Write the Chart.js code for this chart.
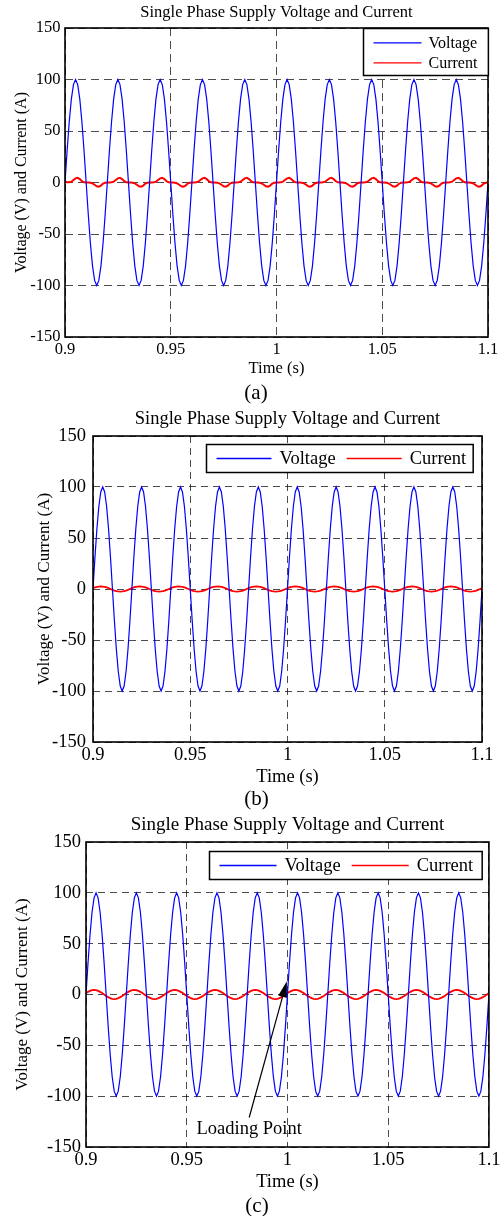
<!DOCTYPE html>
<html><head><meta charset="utf-8">
<script src="https://cdn.jsdelivr.net/npm/chart.js@4.4.0/dist/chart.umd.min.js"></script>
<style>
html,body{margin:0;padding:0;background:#fff;overflow:hidden;width:504px;height:1216px;position:relative;}
canvas{position:absolute;left:0;}
</style></head><body>
<canvas id="ca" width="504" height="410" style="top:0px"></canvas>
<canvas id="cb" width="504" height="418" style="top:400px"></canvas>
<canvas id="cc" width="504" height="420" style="top:800px"></canvas>
<script>
// ---------- data ----------
const titleText = 'Single Phase Supply Voltage and Current';
const xAxisTitle = 'Time (s)';
const yAxisTitle = 'Voltage (V) and Current (A)';
const seriesNames = ['Voltage', 'Current'];
const captions = ['(a)', '(b)', '(c)'];
const xTicks = [0.9, 0.95, 1, 1.05, 1.1];
const yTicks = [-150, -100, -50, 0, 50, 100, 150];
const noteText = 'Loading Point';
const noteTail = [0.981, -121];
const noteHead = [0.9997, 13];
const noteLabel = [0.981, -132];

const time = [
0.900,0.901,0.902,0.903,0.904,0.905,0.906,0.907,0.908,0.909,0.910,0.911,0.912,0.913,0.914,0.915,0.916,0.917,0.918,0.919,
0.920,0.921,0.922,0.923,0.924,0.925,0.926,0.927,0.928,0.929,0.930,0.931,0.932,0.933,0.934,0.935,0.936,0.937,0.938,0.939,
0.940,0.941,0.942,0.943,0.944,0.945,0.946,0.947,0.948,0.949,0.950,0.951,0.952,0.953,0.954,0.955,0.956,0.957,0.958,0.959,
0.960,0.961,0.962,0.963,0.964,0.965,0.966,0.967,0.968,0.969,0.970,0.971,0.972,0.973,0.974,0.975,0.976,0.977,0.978,0.979,
0.980,0.981,0.982,0.983,0.984,0.985,0.986,0.987,0.988,0.989,0.990,0.991,0.992,0.993,0.994,0.995,0.996,0.997,0.998,0.999,
1.000,1.001,1.002,1.003,1.004,1.005,1.006,1.007,1.008,1.009,1.010,1.011,1.012,1.013,1.014,1.015,1.016,1.017,1.018,1.019,
1.020,1.021,1.022,1.023,1.024,1.025,1.026,1.027,1.028,1.029,1.030,1.031,1.032,1.033,1.034,1.035,1.036,1.037,1.038,1.039,
1.040,1.041,1.042,1.043,1.044,1.045,1.046,1.047,1.048,1.049,1.050,1.051,1.052,1.053,1.054,1.055,1.056,1.057,1.058,1.059,
1.060,1.061,1.062,1.063,1.064,1.065,1.066,1.067,1.068,1.069,1.070,1.071,1.072,1.073,1.074,1.075,1.076,1.077,1.078,1.079,
1.080,1.081,1.082,1.083,1.084,1.085,1.086,1.087,1.088,1.089,1.090,1.091,1.092,1.093,1.094,1.095,1.096,1.097,1.098,1.099,
1.100];

const voltage = [
0,30.9,58.8,80.9,95.1,100,95.1,80.9,58.8,30.9,0,-30.9,-58.8,-80.9,-95.1,-100,-95.1,-80.9,-58.8,-30.9,
0,30.9,58.8,80.9,95.1,100,95.1,80.9,58.8,30.9,0,-30.9,-58.8,-80.9,-95.1,-100,-95.1,-80.9,-58.8,-30.9,
0,30.9,58.8,80.9,95.1,100,95.1,80.9,58.8,30.9,0,-30.9,-58.8,-80.9,-95.1,-100,-95.1,-80.9,-58.8,-30.9,
0,30.9,58.8,80.9,95.1,100,95.1,80.9,58.8,30.9,0,-30.9,-58.8,-80.9,-95.1,-100,-95.1,-80.9,-58.8,-30.9,
0,30.9,58.8,80.9,95.1,100,95.1,80.9,58.8,30.9,0,-30.9,-58.8,-80.9,-95.1,-100,-95.1,-80.9,-58.8,-30.9,
0,30.9,58.8,80.9,95.1,100,95.1,80.9,58.8,30.9,0,-30.9,-58.8,-80.9,-95.1,-100,-95.1,-80.9,-58.8,-30.9,
0,30.9,58.8,80.9,95.1,100,95.1,80.9,58.8,30.9,0,-30.9,-58.8,-80.9,-95.1,-100,-95.1,-80.9,-58.8,-30.9,
0,30.9,58.8,80.9,95.1,100,95.1,80.9,58.8,30.9,0,-30.9,-58.8,-80.9,-95.1,-100,-95.1,-80.9,-58.8,-30.9,
0,30.9,58.8,80.9,95.1,100,95.1,80.9,58.8,30.9,0,-30.9,-58.8,-80.9,-95.1,-100,-95.1,-80.9,-58.8,-30.9,
0,30.9,58.8,80.9,95.1,100,95.1,80.9,58.8,30.9,0,-30.9,-58.8,-80.9,-95.1,-100,-95.1,-80.9,-58.8,-30.9,
0];

const currentA = [
0.8,0.3,0.2,0.8,2.4,4.0,4.5,3.4,1.2,0.2,0,0,-0.2,-0.8,-2.2,-3.6,-4.0,-3.0,-1.0,-0.2,
0,0,0.2,0.8,2.4,4.0,4.5,3.4,1.2,0.2,0,0,-0.2,-0.8,-2.2,-3.6,-4.0,-3.0,-1.0,-0.2,
0,0,0.2,0.8,2.4,4.0,4.5,3.4,1.2,0.2,0,0,-0.2,-0.8,-2.2,-3.6,-4.0,-3.0,-1.0,-0.2,
0,0,0.2,0.8,2.4,4.0,4.5,3.4,1.2,0.2,0,0,-0.2,-0.8,-2.2,-3.6,-4.0,-3.0,-1.0,-0.2,
0,0,0.2,0.8,2.4,4.0,4.5,3.4,1.2,0.2,0,0,-0.2,-0.8,-2.2,-3.6,-4.0,-3.0,-1.0,-0.2,
0,0,0.2,0.8,2.4,4.0,4.5,3.4,1.2,0.2,0,0,-0.2,-0.8,-2.2,-3.6,-4.0,-3.0,-1.0,-0.2,
0,0,0.2,0.8,2.4,4.0,4.5,3.4,1.2,0.2,0,0,-0.2,-0.8,-2.2,-3.6,-4.0,-3.0,-1.0,-0.2,
0,0,0.2,0.8,2.4,4.0,4.5,3.4,1.2,0.2,0,0,-0.2,-0.8,-2.2,-3.6,-4.0,-3.0,-1.0,-0.2,
0,0,0.2,0.8,2.4,4.0,4.5,3.4,1.2,0.2,0,0,-0.2,-0.8,-2.2,-3.6,-4.0,-3.0,-1.0,-0.2,
0,0,0.2,0.8,2.4,4.0,4.5,3.4,1.2,0.2,0,0,-0.2,-0.8,-2.2,-3.6,-4.0,-3.0,-1.0,-0.2,
0];

const currentB = [
0.8,1.5,2.0,2.4,2.5,2.4,2.0,1.5,0.8,0,-0.8,-1.5,-2.0,-2.4,-2.5,-2.4,-2.0,-1.5,-0.8,0,
0.8,1.5,2.0,2.4,2.5,2.4,2.0,1.5,0.8,0,-0.8,-1.5,-2.0,-2.4,-2.5,-2.4,-2.0,-1.5,-0.8,0,
0.8,1.5,2.0,2.4,2.5,2.4,2.0,1.5,0.8,0,-0.8,-1.5,-2.0,-2.4,-2.5,-2.4,-2.0,-1.5,-0.8,0,
0.8,1.5,2.0,2.4,2.5,2.4,2.0,1.5,0.8,0,-0.8,-1.5,-2.0,-2.4,-2.5,-2.4,-2.0,-1.5,-0.8,0,
0.8,1.5,2.0,2.4,2.5,2.4,2.0,1.5,0.8,0,-0.8,-1.5,-2.0,-2.4,-2.5,-2.4,-2.0,-1.5,-0.8,0,
0.8,1.5,2.0,2.4,2.5,2.4,2.0,1.5,0.8,0,-0.8,-1.5,-2.0,-2.4,-2.5,-2.4,-2.0,-1.5,-0.8,0,
0.8,1.5,2.0,2.4,2.5,2.4,2.0,1.5,0.8,0,-0.8,-1.5,-2.0,-2.4,-2.5,-2.4,-2.0,-1.5,-0.8,0,
0.8,1.5,2.0,2.4,2.5,2.4,2.0,1.5,0.8,0,-0.8,-1.5,-2.0,-2.4,-2.5,-2.4,-2.0,-1.5,-0.8,0,
0.8,1.5,2.0,2.4,2.5,2.4,2.0,1.5,0.8,0,-0.8,-1.5,-2.0,-2.4,-2.5,-2.4,-2.0,-1.5,-0.8,0,
0.8,1.5,2.0,2.4,2.5,2.4,2.0,1.5,0.8,0,-0.8,-1.5,-2.0,-2.4,-2.5,-2.4,-2.0,-1.5,-0.8,0,
0.8];

const currentC = [
1.4,2.6,3.6,4.3,4.5,4.3,3.6,2.6,1.4,0,-1.4,-2.6,-3.6,-4.3,-4.5,-4.3,-3.6,-2.6,-1.4,0,
1.4,2.6,3.6,4.3,4.5,4.3,3.6,2.6,1.4,0,-1.4,-2.6,-3.6,-4.3,-4.5,-4.3,-3.6,-2.6,-1.4,0,
1.4,2.6,3.6,4.3,4.5,4.3,3.6,2.6,1.4,0,-1.4,-2.6,-3.6,-4.3,-4.5,-4.3,-3.6,-2.6,-1.4,0,
1.4,2.6,3.6,4.3,4.5,4.3,3.6,2.6,1.4,0,-1.4,-2.6,-3.6,-4.3,-4.5,-4.3,-3.6,-2.6,-1.4,0,
1.4,2.6,3.6,4.3,4.5,4.3,3.6,2.6,1.4,0,-1.4,-2.6,-3.6,-4.3,-4.5,-4.3,-3.6,-2.6,-1.4,0,
1.4,2.6,3.6,4.3,4.5,4.3,3.6,2.6,1.4,0,-1.4,-2.6,-3.6,-4.3,-4.5,-4.3,-3.6,-2.6,-1.4,0,
1.4,2.6,3.6,4.3,4.5,4.3,3.6,2.6,1.4,0,-1.4,-2.6,-3.6,-4.3,-4.5,-4.3,-3.6,-2.6,-1.4,0,
1.4,2.6,3.6,4.3,4.5,4.3,3.6,2.6,1.4,0,-1.4,-2.6,-3.6,-4.3,-4.5,-4.3,-3.6,-2.6,-1.4,0,
1.4,2.6,3.6,4.3,4.5,4.3,3.6,2.6,1.4,0,-1.4,-2.6,-3.6,-4.3,-4.5,-4.3,-3.6,-2.6,-1.4,0,
1.4,2.6,3.6,4.3,4.5,4.3,3.6,2.6,1.4,0,-1.4,-2.6,-3.6,-4.3,-4.5,-4.3,-3.6,-2.6,-1.4,0,
1.4];

// ---------- plugins ----------
const FAMILY = '"Liberation Serif", "Times New Roman", serif';

const framePlugin = {
  id: 'frame',
  afterDatasetsDraw(chart) {
    const {ctx, chartArea: a} = chart;
    ctx.save();
    ctx.strokeStyle = '#000';
    ctx.lineWidth = 1.6;
    ctx.strokeRect(a.left, a.top, a.right - a.left, a.bottom - a.top);
    ctx.restore();
  }
};

const legendPlugin = {
  id: 'boxLegend',
  afterDraw(chart, args, o) {
    const {ctx, chartArea: a} = chart;
    const ds = chart.data.datasets;
    ctx.save();
    ctx.font = o.size + 'px ' + FAMILY;
    const tw = ds.map(d => ctx.measureText(d.label).width);
    let w;
    if (o.vertical) w = o.padL + o.len + o.gap + Math.max(...tw) + o.padR;
    else w = o.padL + tw.reduce((s, v) => s + v, 0) + ds.length * (o.len + o.gap) + (ds.length - 1) * o.itemGap + o.padR;
    const x0 = Math.round(a.right - o.right - w) + 0.5, y0 = Math.round(a.top + o.top) + 0.5;
    ctx.fillStyle = '#fff';
    ctx.fillRect(x0, y0, w, o.h);
    ctx.strokeStyle = '#000';
    ctx.lineWidth = o.bw;
    ctx.strokeRect(x0, y0, w, o.h);
    ctx.textBaseline = 'middle';
    ctx.textAlign = 'left';
    let x = x0 + o.padL;
    ds.forEach((d, i) => {
      const y = y0 + (o.vertical ? o.rows[i] : o.h / 2);
      const lx = o.vertical ? x0 + o.padL : x;
      ctx.strokeStyle = d.borderColor;
      ctx.lineWidth = 1.3;
      ctx.beginPath(); ctx.moveTo(lx, y); ctx.lineTo(lx + o.len, y); ctx.stroke();
      ctx.fillStyle = '#000';
      ctx.fillText(d.label, lx + o.len + o.gap, y + 1);
      if (!o.vertical) x = lx + o.len + o.gap + tw[i] + o.itemGap;
    });
    ctx.restore();
  }
};

const notePlugin = {
  id: 'arrowNote',
  afterDatasetsDraw(chart, args, o) {
    const {ctx, scales: {x, y}} = chart;
    const x1 = x.getPixelForValue(o.tail[0]), y1 = y.getPixelForValue(o.tail[1]);
    const x2 = x.getPixelForValue(o.head[0]), y2 = y.getPixelForValue(o.head[1]);
    const ang = Math.atan2(y2 - y1, x2 - x1);
    const L = 16, W = 4.5;
    const bx = x2 - L * Math.cos(ang), by = y2 - L * Math.sin(ang);
    ctx.save();
    ctx.strokeStyle = '#000'; ctx.fillStyle = '#000'; ctx.lineWidth = 1.2;
    ctx.beginPath(); ctx.moveTo(x1, y1); ctx.lineTo(bx, by); ctx.stroke();
    ctx.beginPath(); ctx.moveTo(x2, y2);
    ctx.lineTo(bx + W * Math.sin(ang), by - W * Math.cos(ang));
    ctx.lineTo(bx - W * Math.sin(ang), by + W * Math.cos(ang));
    ctx.closePath(); ctx.fill();
    ctx.font = o.size + 'px ' + FAMILY;
    ctx.textAlign = 'center'; ctx.textBaseline = 'middle';
    ctx.fillText(o.text, x.getPixelForValue(o.label[0]), y.getPixelForValue(o.label[1]));
    ctx.restore();
  }
};

// ---------- chart builder ----------
function build(id, current, g) {
  const font = s => ({family: FAMILY, size: s, weight: 'normal', lineHeight: 1});
  const pts = arr => time.map((t, i) => ({x: t, y: arr[i]}));
  const gridColor = 'rgba(0,0,0,0.7)';
  return new Chart(document.getElementById(id), {
    type: 'line',
    data: {datasets: [
      {label: seriesNames[0], data: pts(voltage), borderColor: '#0000ff', borderWidth: 1.2, pointRadius: 0, tension: 0, fill: false},
      {label: seriesNames[1], data: pts(current), borderColor: '#ff0000', borderWidth: g.cw, pointRadius: 0, tension: 0, fill: false}
    ]},
    options: {
      responsive: false, animation: false, devicePixelRatio: 1,
      layout: {padding: {left: g.padL, right: g.padR, top: 0, bottom: 0}},
      plugins: {
        legend: {display: false},
        tooltip: {enabled: false},
        title: {display: true, fullSize: false, text: titleText, color: '#000', font: font(g.tf), padding: {top: g.tpT, bottom: g.tpB}},
        subtitle: {display: true, fullSize: true, position: 'bottom', text: g.cap, color: '#000', font: font(21), padding: {top: 0, bottom: g.cpB}},
        boxLegend: g.leg,
        arrowNote: g.note || false
      },
      scales: {
        x: {
          type: 'linear', min: 0.9, max: 1.1,
          afterFit: s => { s.height = g.xh; },
          afterBuildTicks: s => { s.ticks = xTicks.map(v => ({value: v})); },
          ticks: {color: '#000', font: font(g.kf), padding: g.xtp, maxRotation: 0, autoSkip: false,
                  callback: v => String(+v.toFixed(2))},
          grid: {color: gridColor, lineWidth: 1, drawTicks: false},
          border: {display: false, dash: g.dash},
          title: {display: true, text: xAxisTitle, color: '#000', font: font(g.kf), padding: {top: 0, bottom: g.xtpB}}
        },
        y: {
          type: 'linear', min: -150, max: 150,
          afterFit: s => { s.width = g.plotLeft - g.padL; },
          afterBuildTicks: s => { s.ticks = yTicks.map(v => ({value: v})); },
          ticks: {color: '#000', font: font(g.kf), padding: g.ytp, callback: v => String(v)},
          grid: {color: gridColor, lineWidth: 1, drawTicks: false},
          border: {display: false, dash: g.dash},
          title: {display: true, text: yAxisTitle, color: '#000', font: font(g.yf),
                  padding: {top: g.yCenter - g.padL - g.yf / 2, bottom: 0}}
        }
      }
    },
    plugins: [framePlugin, legendPlugin, notePlugin]
  });
}

build('ca', currentA, {
  cw: 2, padL: 24, padR: 16, plotLeft: 65, tf: 16.5, tpT: 4.35, tpB: 7.15, cap: captions[0], cpB: 6.5,
  xh: 45.5, kf: 16.5, xtp: 4.75, xtpB: 5.25, ytp: 4.5, yf: 16, yCenter: 22, dash: [8, 5],
  leg: {vertical: true, size: 16, padL: 10, len: 48, gap: 7, padR: 11, right: 0, top: 0, h: 47, rows: [14.3, 34.3], bw: 1.5}
});
build('cb', currentB, {
  cw: 1.8, padL: 31, padR: 22, plotLeft: 93, tf: 18.5, tpT: 9.75, tpB: 7.75, cap: captions[1], cpB: 8.5,
  xh: 46.5, kf: 18.5, xtp: 3.75, xtpB: 2.25, ytp: 7, yf: 17, yCenter: 45, dash: [7, 5],
  leg: {vertical: false, size: 18.5, padL: 10, len: 55, gap: 8, itemGap: 11, padR: 7, right: 9, top: 8, h: 28, bw: 1.5}
});
build('cc', currentC, {
  cw: 1.8, padL: 25, padR: 15, plotLeft: 86, tf: 19, tpT: 15.5, tpB: 7.5, cap: captions[2], cpB: 3.5,
  xh: 48.5, kf: 18.5, xtp: 3.5, xtpB: 4, ytp: 5, yf: 17, yCenter: 23, dash: [7, 5],
  leg: {vertical: false, size: 18.5, padL: 10, len: 57, gap: 8, itemGap: 11, padR: 9, right: 7, top: 9, h: 28, bw: 1.5},
  note: {tail: noteTail, head: noteHead, label: noteLabel, text: noteText, size: 18.5}
});
</script>
</body></html>
